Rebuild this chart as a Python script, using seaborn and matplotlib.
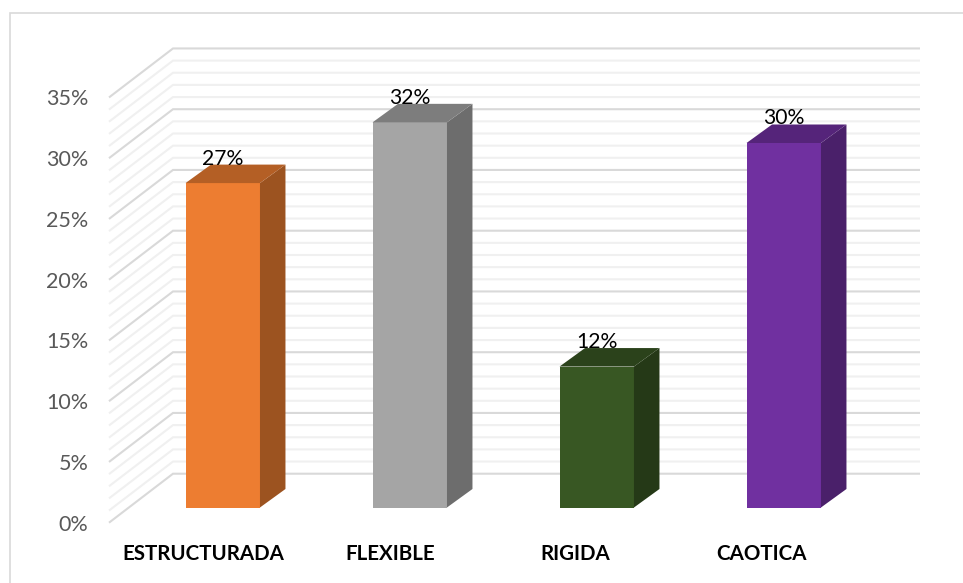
import numpy as np
import pandas as pd
import matplotlib
matplotlib.use("Agg")
import matplotlib.pyplot as plt
from matplotlib.colors import to_rgb
from matplotlib.lines import Line2D
import seaborn as sns

categories = ["ESTRUCTURADA", "FLEXIBLE", "RIGIDA", "CAOTICA"]
values = [26.7, 31.7, 11.6, 30.0]
value_labels = ["27%", "32%", "12%", "30%"]
colors = ["#ED7D31", "#A5A5A5", "#385723", "#7030A0"]
y_ticks = [0, 5, 10, 15, 20, 25, 30, 35]
y_minor = [v for v in range(36)]

W, H = 963, 583
PX_PER_UNIT_X = 187.0
PX_PER_UNIT_Y = 12.15
X0_PX = 222.75
BASE_PX = 507.5

sns.set_theme(style="white")
plt.rcParams["font.family"] = ["Lato", "DejaVu Sans"]

fig = plt.figure(figsize=(W / 100, H / 100), dpi=100)
left, right, bottom, top = 109, 920, 522.7, 48.3
ax = fig.add_axes([left / W, 1 - bottom / H, (right - left) / W, (bottom - top) / H])

df = pd.DataFrame({"cat": categories, "val": values})
sns.barplot(data=df, x="cat", y="val", hue="cat", palette=colors, saturation=1,
            width=0.398, dodge=False, legend=False, ax=ax, zorder=3, linewidth=0)

ax.set_xlim((left - X0_PX) / PX_PER_UNIT_X, (right - X0_PX) / PX_PER_UNIT_X)
ax.set_ylim((BASE_PX - bottom) / PX_PER_UNIT_Y, (BASE_PX - top) / PX_PER_UNIT_Y)
ax.set_xlabel("")
ax.set_ylabel("")
for s in ax.spines.values():
    s.set_visible(False)
ax.patch.set_alpha(0)

front_off = (BASE_PX - 522.7) / PX_PER_UNIT_Y
back_off = (BASE_PX - 473.7) / PX_PER_UNIT_Y
wall_x = (173 - X0_PX) / PX_PER_UNIT_X
x_min, x_max = ax.get_xlim()

for v in y_minor:
    major = v % 5 == 0
    col = "#d9d9d9" if major else "#f0f0f0"
    ax.plot([x_min, wall_x, x_max], [v + front_off, v + back_off, v + back_off],
            color=col, lw=1.5, zorder=2 if major else 1, clip_on=False,
            solid_joinstyle="miter", solid_capstyle="butt")

# 3D depth of each bar
dx = 25.5 / PX_PER_UNIT_X
dy = 18.5 / PX_PER_UNIT_Y
hw = 0.398 / 2
for i, (v, c, lab) in enumerate(zip(values, colors, value_labels)):
    rgb = np.array(to_rgb(c))
    ax.fill([i + hw, i + hw + dx, i + hw + dx, i + hw],
            [0, dy, v + dy, v], color=rgb * 0.66, lw=0, zorder=3)
    ax.fill([i - hw, i + hw, i + hw + dx, i - hw + dx],
            [v, v, v + dy, v + dy], color=rgb * 0.76, lw=0, zorder=3)
    ax.text(i, v + dy, lab, ha="center", va="baseline", color="black",
            fontsize=15.2, zorder=4)

ax.set_yticks([v + front_off for v in y_ticks], [f"{v}%" for v in y_ticks])
ax.set_xticks(np.arange(len(categories)) * 186 / PX_PER_UNIT_X - 19 / PX_PER_UNIT_X, categories)
ax.tick_params(axis="y", length=0, pad=15, labelsize=15.5, labelcolor="#595959")
ax.tick_params(axis="x", length=0, pad=15.5, labelsize=14.8, labelcolor="black")
for t in ax.get_xticklabels():
    t.set_fontweight("bold")

fig.add_artist(Line2D([10 / W, 10 / W, 1], [0, 1 - 13 / H, 1 - 13 / H],
                      color="#d9d9d9", lw=1.2, transform=fig.transFigure,
                      solid_joinstyle="miter"))

fig.savefig("out.png", dpi=100, facecolor="white")
